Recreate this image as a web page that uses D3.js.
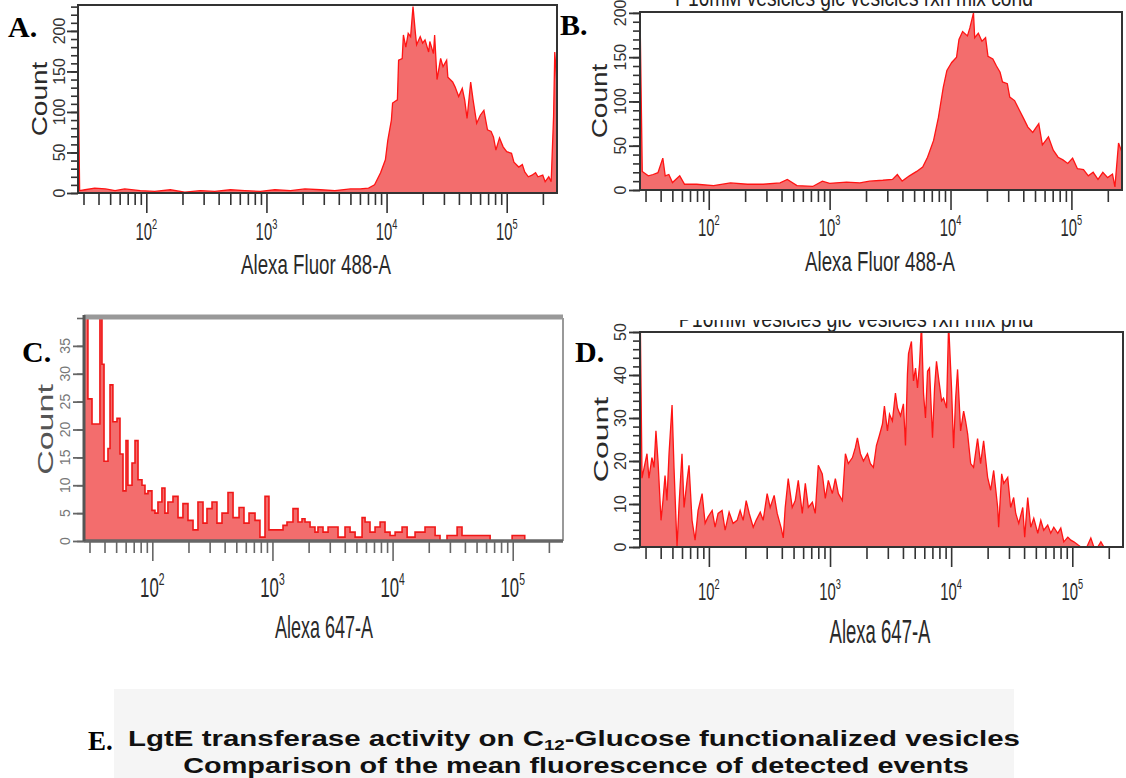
<!DOCTYPE html>
<html>
<head>
<meta charset="utf-8">
<script src="https://cdn.jsdelivr.net/npm/d3@7"></script>
<style>
  body { margin: 0; background: #fff; }
  svg { display: block; font-family: "Liberation Sans", Arial, sans-serif; }
</style>
</head>
<body>
<div id="chart"></div>
<script>
// histogram bins: [log10 fluorescence, count]
const histA = [[1.431,179],[1.445,3],[1.49,4],[1.57,6],[1.66,5],[1.74,3],[1.82,5],[1.95,3],[2.07,2],[2.20,4],
  [2.32,1],[2.45,3],[2.57,2],[2.70,4],[2.82,3],[2.95,2],[3.07,4],[3.20,3],[3.32,5],[3.45,4],
  [3.57,3],[3.70,5],[3.78,5],[3.85,6],[3.90,10],[3.95,25],[3.99,41],[4.01,65],[4.04,90],[4.05,111],
  [4.09,115],[4.10,164],[4.13,166],[4.14,195],[4.16,180],[4.18,197],[4.20,193],[4.22,230],[4.24,197],[4.25,183],
  [4.28,193],[4.30,185],[4.32,189],[4.35,174],[4.36,187],[4.39,172],[4.40,195],[4.42,140],[4.45,166],[4.47,156],
  [4.50,164],[4.51,143],[4.55,137],[4.57,131],[4.60,119],[4.63,129],[4.65,115],[4.67,92],[4.70,137],[4.72,115],
  [4.75,86],[4.78,96],[4.81,102],[4.84,78],[4.87,76],[4.89,69],[4.91,53],[4.94,68],[4.97,57],[5.00,51],
  [5.04,49],[5.06,38],[5.10,32],[5.13,35],[5.15,26],[5.18,20],[5.21,22],[5.24,25],[5.26,20],[5.30,22],
  [5.32,14],[5.35,20],[5.37,14],[5.39,94],[5.40,174],[5.42,131]];

const histB = [[1.431,205],[1.45,21],[1.50,16],[1.54,17.5],[1.58,19.6],[1.62,36],[1.64,16],[1.67,17.5],[1.70,8.4],[1.76,16],
  [1.80,6.5],[1.90,6.5],[2.04,5],[2.18,8],[2.32,6.5],[2.45,6.5],[2.59,8],[2.65,12],[2.73,5],[2.86,4],
  [2.94,10],[3.00,7.5],[3.14,9],[3.25,8],[3.33,10],[3.44,11],[3.52,12],[3.56,17.5],[3.60,10],[3.66,16],
  [3.72,21],[3.77,26],[3.81,37],[3.86,56],[3.90,82],[3.94,116],[3.97,135],[4.01,144],[4.05,150],[4.07,170],
  [4.10,179],[4.14,174],[4.16,183],[4.19,200],[4.20,172],[4.23,177],[4.26,168],[4.29,172],[4.31,151],[4.35,148],
  [4.38,140],[4.41,133],[4.43,122],[4.47,120],[4.49,105],[4.53,101],[4.57,90],[4.60,82],[4.64,71],[4.68,65],
  [4.73,75],[4.76,51],[4.81,60],[4.85,45],[4.89,37],[4.93,34],[4.97,30],[5.01,36],[5.05,24],[5.10,23],
  [5.14,16],[5.18,20],[5.22,12],[5.26,20],[5.30,14],[5.34,18],[5.36,3.5],[5.39,53],[5.42,42]];

const histC = [[1.431,45],[1.464,25.5],[1.498,21],[1.531,21],[1.564,45],[1.581,31.7],[1.598,14.3],[1.631,16.6],[1.648,28],[1.672,21.4],
  [1.706,22],[1.731,15.6],[1.756,9],[1.781,18],[1.797,10],[1.831,14],[1.856,18],[1.881,11],[1.914,10],[1.939,8.5],
  [1.964,9],[1.997,5.5],[2.022,5],[2.047,7],[2.080,9.5],[2.105,5],[2.130,7],[2.172,8],[2.214,4.2],[2.255,6.7],
  [2.297,3.7],[2.339,2],[2.380,7],[2.422,3.2],[2.455,5.8],[2.497,7],[2.538,3.2],[2.580,5],[2.630,8.7],[2.672,4.2],
  [2.722,6],[2.763,3.2],[2.805,5],[2.855,3.7],[2.896,0.7],[2.938,8],[2.971,2],[3.038,2],[3.088,2.8],[3.121,3.4],
  [3.171,5.8],[3.213,3.4],[3.246,4],[3.271,3.4],[3.313,2.5],[3.354,1.6],[3.379,2.5],[3.421,1.6],[3.463,2.5],[3.504,2.5],
  [3.546,0.7],[3.604,2.5],[3.646,1.6],[3.688,0.7],[3.746,4.2],[3.771,3.4],[3.812,1.6],[3.854,2.5],[3.896,3.4],[3.937,1.6],
  [3.979,1],[4.021,1.6],[4.079,2.5],[4.121,0.7],[4.187,1.6],[4.270,2.5],[4.312,2.5],[4.354,1],[4.395,0],[4.453,1],
  [4.537,2.5],[4.578,1],[4.662,1],[4.703,1],[4.728,1],[4.812,0],[4.995,1],[5.061,1],[5.10,0],[5.42,0]];

const histD = [[1.431,60],[1.448,16],[1.489,21.7],[1.505,16],[1.530,20.8],[1.547,18.5],[1.563,27],[1.580,20],[1.605,6.2],[1.621,10.8],
  [1.638,16.6],[1.654,10.8],[1.671,21.7],[1.696,33],[1.712,18.5],[1.737,0],[1.754,10],[1.778,21.7],[1.795,9.2],[1.820,15.5],
  [1.836,19],[1.861,6.2],[1.886,1.6],[1.911,8.5],[1.944,12.4],[1.969,5.5],[1.993,7],[2.027,8.5],[2.051,4.6],[2.076,7.8],
  [2.109,8.5],[2.134,3.9],[2.167,8.1],[2.200,5.5],[2.233,6.2],[2.258,8.5],[2.283,6.2],[2.308,10.8],[2.333,7.8],[2.366,4.6],
  [2.390,6.2],[2.424,8.1],[2.448,6.2],[2.481,12.4],[2.506,9.2],[2.539,12],[2.564,7.8],[2.597,4.4],[2.614,2.1],[2.630,9.2],
  [2.655,15.9],[2.688,9.2],[2.713,10.8],[2.738,15.5],[2.771,7.8],[2.796,14.8],[2.821,9.2],[2.854,10.4],[2.878,7.8],[2.903,19],
  [2.936,17],[2.961,11.3],[2.986,15.5],[3.019,12.4],[3.044,15.9],[3.069,12.4],[3.102,10.8],[3.127,21.7],[3.151,19.4],[3.185,20.8],
  [3.209,23.1],[3.226,25.4],[3.251,21.7],[3.276,20],[3.309,21.7],[3.333,19.4],[3.358,18.5],[3.383,23.6],[3.408,26],[3.433,28.6],
  [3.449,32.8],[3.474,27],[3.491,30.9],[3.515,29.3],[3.540,35.8],[3.557,32.3],[3.582,30.5],[3.606,33.3],[3.623,23.6],[3.639,40.2],
  [3.648,45],[3.672,47.8],[3.689,38.6],[3.706,41.6],[3.722,37],[3.739,42.5],[3.755,52],[3.772,35.6],[3.788,30],[3.805,40.9],
  [3.821,41.6],[3.846,25.4],[3.863,37],[3.879,43.2],[3.896,39.3],[3.921,34],[3.937,34.6],[3.962,32.3],[3.979,52],[4.003,37],
  [4.020,23],[4.037,34.6],[4.053,41.3],[4.078,27],[4.103,31.6],[4.119,29.3],[4.136,26.3],[4.161,19.4],[4.185,18.5],[4.218,25.2],
  [4.243,19.4],[4.268,24.7],[4.301,16.2],[4.326,13.2],[4.351,17.8],[4.384,9.2],[4.392,4.6],[4.417,17],[4.434,14.8],[4.467,16.2],
  [4.491,9.2],[4.516,11.5],[4.533,7.8],[4.558,5.5],[4.591,9.2],[4.607,2.3],[4.632,11.5],[4.657,4.6],[4.682,6.7],[4.715,3.2],
  [4.740,6.2],[4.764,3.9],[4.797,5.1],[4.822,3.2],[4.847,4.6],[4.880,3.2],[4.905,4.4],[4.930,1.2],[4.963,2.3],[4.988,1.6],
  [5.013,1.2],[5.046,0.5],[5.071,0],[5.12,0],[5.153,2.1],[5.178,0],[5.21,0],[5.236,1.2],[5.261,0],[5.42,0]];

// tick labels and texts
const decades = [2, 3, 4, 5];
const yTicksA = [0, 50, 100, 150, 200];
const yTicksB = [0, 50, 100, 150, 200];
const yTicksC = [0, 5, 10, 15, 20, 25, 30, 35];
const yTicksD = [0, 10, 20, 30, 40, 50];
const xTitle488 = "Alexa Fluor 488-A";
const xTitle647 = "Alexa 647-A";
const yTitle = "Count";
const runTitleB = "P16mM vesicles glc vesicles rxn mix cond";
const runTitleD = "P16mM vesicles glc vesicles rxn mix pnd";
const title1 = ["LgtE transferase activity on C", "12", "-Glucose functionalized vesicles"];
const title2 = "Comparison of the mean fluorescence of detected events";

const width = 1126, height = 778;
const svg = d3.select("#chart").append("svg")
    .attr("width", width)
    .attr("height", height);

const panels = [
  {id: "A", data: histA, yTicks: yTicksA, ymax: 232, minor: 10, left: 78, right: 557, top: 5, bottom: 193,
   tickY: 240, tickFont: 24, xTitle: xTitle488, xTitleX: 316, xTitleY: 274, xTitleSize: 28, xTitleW: 150,
   countX: 39, countSize: 28, countSx: 0.8, yLabX: 59, letterX: 8, letterY: 37, curve: d3.curveLinear},
  {id: "B", data: histB, yTicks: yTicksB, ymax: 201, minor: 10, left: 640, right: 1122, top: 12, bottom: 190,
   tickY: 236, tickFont: 24, xTitle: xTitle488, xTitleX: 880, xTitleY: 271, xTitleSize: 28, xTitleW: 150,
   countX: 599, countSize: 28, countSx: 0.8, yLabX: 620, letterX: 560, letterY: 35, curve: d3.curveLinear},
  {id: "C", data: histC, yTicks: yTicksC, ymax: 40, minor: 5, left: 84, right: 563, top: 318, bottom: 541,
   tickY: 597, tickFont: 27, xTitle: xTitle647, xTitleX: 324, xTitleY: 638, xTitleSize: 32, xTitleW: 98,
   countX: 45, countSize: 34, countSx: 0.66, yLabX: 65, letterX: 22, letterY: 362, curve: d3.curveStepAfter, gray: true},
  {id: "D", data: histD, yTicks: yTicksD, ymax: 50, minor: 2, left: 640, right: 1123, top: 332, bottom: 547,
   tickY: 600, tickFont: 24, xTitle: xTitle647, xTitleX: 880, xTitleY: 643, xTitleSize: 33, xTitleW: 101,
   countX: 601, countSize: 32, countSx: 0.62, yLabX: 620, letterX: 575, letterY: 362, curve: d3.curveLinear}
];

// squeeze a text horizontally to a given width
function fitText(t, cx, cy, w) {
  const len = t.node().getComputedTextLength();
  t.attr("transform", `translate(${cx},${cy}) scale(${w / len},1)`);
}

function drawPanel(p) {
  const x = d3.scaleLog().domain([27, 262144]).range([p.left, p.right]);
  const y = d3.scaleLinear().domain([0, p.ymax]).range([p.bottom, p.top]);
  const axisColor = p.gray ? "#666" : "#333";

  svg.append("clipPath").attr("id", "clip" + p.id)
    .append("rect")
    .attr("x", p.left).attr("y", p.top)
    .attr("width", p.right - p.left).attr("height", p.bottom - p.top);

  const area = d3.area()
    .x(d => x(10 ** d[0]))
    .y0(p.bottom)
    .y1(d => y(d[1]))
    .curve(p.curve);
  const line = d3.line()
    .x(d => x(10 ** d[0]))
    .y(d => y(d[1]))
    .curve(p.curve);

  const g = svg.append("g").attr("clip-path", `url(#clip${p.id})`);
  g.append("path").datum(p.data)
    .attr("d", area)
    .attr("fill", "#f36d6d");
  g.append("path").datum(p.data)
    .attr("d", line)
    .attr("fill", "none")
    .attr("stroke", p.gray ? "#f01818" : "#ff1414")
    .attr("stroke-width", p.gray ? 1.6 : 1.3);

  // x axis ticks
  const allTicks = x.ticks();
  const isDecade = v => Math.abs(Math.log10(v) - Math.round(Math.log10(v))) < 1e-9;
  const minorX = allTicks.filter(v => !isDecade(v));
  const majorX = allTicks.filter(isDecade);
  svg.append("g")
    .attr("transform", `translate(0,${p.bottom})`)
    .call(d3.axisBottom(x).tickValues(minorX).tickSize(12).tickFormat(""))
    .call(a => a.select(".domain").remove())
    .call(a => a.selectAll("line").attr("stroke", axisColor).attr("stroke-width", 1.6));
  svg.append("g")
    .attr("transform", `translate(0,${p.bottom})`)
    .call(d3.axisBottom(x).tickValues(majorX).tickSize(20).tickFormat(""))
    .call(a => a.select(".domain").remove())
    .call(a => a.selectAll("line").attr("stroke", axisColor).attr("stroke-width", 1.6));

  decades.forEach(dec => {
    const t = svg.append("text")
      .attr("text-anchor", "middle")
      .attr("fill", "#2a2a2a")
      .attr("font-size", p.tickFont)
      .attr("transform", `translate(${x(10 ** dec)},${p.tickY}) scale(0.62,1)`);
    t.append("tspan").text("10");
    t.append("tspan").attr("font-size", p.tickFont * 0.62).attr("dy", -p.tickFont * 0.45).text(dec);
  });

  // y axis ticks
  const minorY = d3.range(0, p.ymax + 0.001, p.minor);
  svg.append("g")
    .attr("transform", `translate(${p.left},0)`)
    .call(d3.axisLeft(y).tickValues(minorY).tickSize(7).tickFormat(""))
    .call(a => a.select(".domain").remove())
    .call(a => a.selectAll("line").attr("stroke", axisColor).attr("stroke-width", 1.6));
  svg.append("g")
    .attr("transform", `translate(${p.left},0)`)
    .call(d3.axisLeft(y).tickValues(p.yTicks).tickSize(11).tickFormat(""))
    .call(a => a.select(".domain").remove())
    .call(a => a.selectAll("line").attr("stroke", axisColor).attr("stroke-width", 1.8));

  p.yTicks.forEach(v => {
    svg.append("text")
      .attr("transform", `translate(${p.yLabX},${y(v)}) rotate(-90)`)
      .attr("text-anchor", "middle")
      .attr("dominant-baseline", "central")
      .attr("font-size", p.gray ? 14 : 16)
      .attr("fill", p.gray ? "#777" : "#333")
      .text(v);
  });

  // frame
  if (p.gray) {
    svg.append("line").attr("x1", p.left).attr("x2", p.right).attr("y1", p.top - 1).attr("y2", p.top - 1)
      .attr("stroke", "#999").attr("stroke-width", 5);
    svg.append("line").attr("x1", p.right).attr("x2", p.right).attr("y1", p.top).attr("y2", p.bottom)
      .attr("stroke", "#999").attr("stroke-width", 2);
    svg.append("line").attr("x1", p.left).attr("x2", p.right).attr("y1", p.bottom).attr("y2", p.bottom)
      .attr("stroke", "#666").attr("stroke-width", 3.5);
    svg.append("line").attr("x1", p.left).attr("x2", p.left).attr("y1", p.top - 3).attr("y2", p.bottom)
      .attr("stroke", "#555").attr("stroke-width", 3);
  } else {
    svg.append("rect")
      .attr("x", p.left).attr("y", p.top)
      .attr("width", p.right - p.left).attr("height", p.bottom - p.top)
      .attr("fill", "none").attr("stroke", "#333").attr("stroke-width", 2);
  }

  // axis titles
  const xt = svg.append("text")
    .attr("text-anchor", "middle")
    .attr("font-size", p.xTitleSize)
    .attr("fill", "#2a2a2a")
    .text(p.xTitle);
  fitText(xt, p.xTitleX, p.xTitleY, p.xTitleW);

  svg.append("text")
    .attr("transform", `translate(${p.countX},${(p.top + p.bottom) / 2}) scale(${p.countSx},1) rotate(-90)`)
    .attr("text-anchor", "middle")
    .attr("dominant-baseline", "central")
    .attr("font-size", p.countSize)
    .attr("fill", p.gray ? "#555" : "#2a2a2a")
    .text(yTitle);

  svg.append("text")
    .attr("x", p.letterX).attr("y", p.letterY)
    .attr("font-family", "'Liberation Serif', 'Times New Roman', serif")
    .attr("font-weight", "bold")
    .attr("font-size", 30)
    .attr("fill", "#000")
    .text(p.id + ".");
}

panels.forEach(drawPanel);

// run titles above B and D, only their lower part shows
svg.append("clipPath").attr("id", "clipTitleB")
  .append("rect").attr("x", 600).attr("y", 0).attr("width", 526).attr("height", 11);
const tb = svg.append("g").attr("clip-path", "url(#clipTitleB)")
  .append("text").attr("text-anchor", "middle").attr("font-size", 24).attr("fill", "#222").text(runTitleB);
fitText(tb, 854, 6, 358);

svg.append("clipPath").attr("id", "clipTitleD")
  .append("rect").attr("x", 600).attr("y", 320).attr("width", 526).attr("height", 11);
const td = svg.append("g").attr("clip-path", "url(#clipTitleD)")
  .append("text").attr("text-anchor", "middle").attr("font-size", 24).attr("fill", "#222").text(runTitleD);
fitText(td, 856, 327, 355);

// panel E heading
svg.append("rect")
  .attr("x", 114).attr("y", 689)
  .attr("width", 900).attr("height", 89)
  .attr("fill", "#f5f5f5");

svg.append("text")
  .attr("x", 88).attr("y", 750)
  .attr("font-family", "'Liberation Serif', 'Times New Roman', serif")
  .attr("font-weight", "bold")
  .attr("font-size", 27)
  .text("E.");

const l1 = svg.append("text")
  .attr("text-anchor", "middle")
  .attr("font-weight", "bold")
  .attr("font-size", 22)
  .attr("fill", "#111");
l1.append("tspan").text(title1[0]);
l1.append("tspan").attr("font-size", 14).attr("dy", 4).text(title1[1]);
l1.append("tspan").attr("dy", -4).text(title1[2]);
fitText(l1, 574, 746, 892);

const l2 = svg.append("text")
  .attr("text-anchor", "middle")
  .attr("font-weight", "bold")
  .attr("font-size", 21.5)
  .attr("fill", "#111")
  .text(title2);
fitText(l2, 576, 773.4, 786);
</script>
</body>
</html>
